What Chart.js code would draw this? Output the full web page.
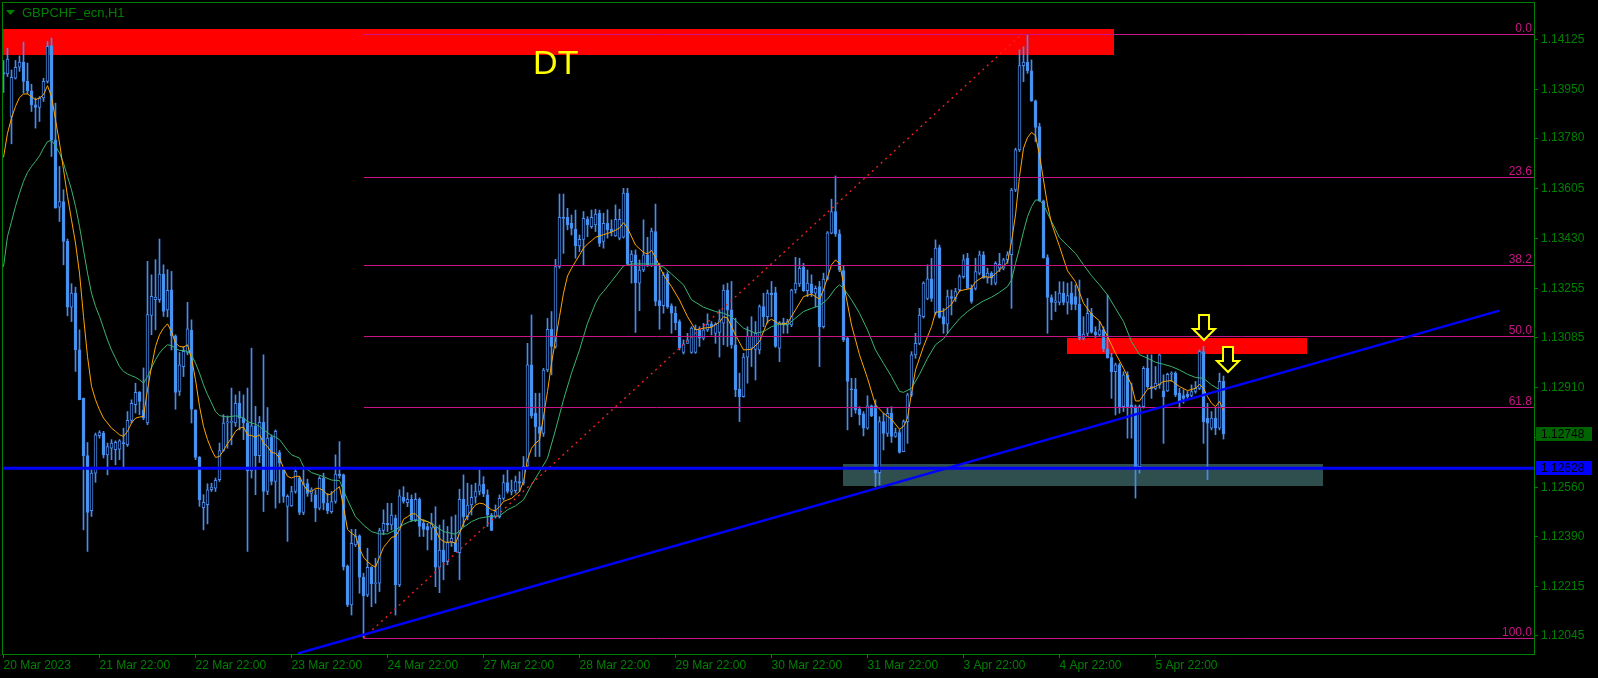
<!DOCTYPE html>
<html><head><meta charset="utf-8">
<style>html,body{margin:0;padding:0;background:#000;overflow:hidden}canvas{display:block}</style>
<script src="https://cdn.jsdelivr.net/npm/chart.js@4.4.1/dist/chart.umd.min.js"></script>
</head><body>
<canvas id="c" width="1598" height="678"></canvas>
<script>
// ---- data: GBPCHF_ecn H1, one bar per hour starting 20 Mar 2023 22:00 ----
const dayTickBars = [0,24,48,72,96,120,144,168,192,216,240,264,288];
const dayLabels = ['20 Mar 2023','21 Mar 22:00','22 Mar 22:00','23 Mar 22:00','24 Mar 22:00','27 Mar 22:00','28 Mar 22:00','29 Mar 22:00','30 Mar 22:00','31 Mar 22:00','3 Apr 22:00','4 Apr 22:00','5 Apr 22:00'];
const priceTicks = [1.14125,1.13950,1.13780,1.13605,1.13430,1.13255,1.13085,1.12910,1.12735,1.12560,1.12390,1.12215,1.12045];

const opens = [
1.14009,1.14004,1.13856,1.13989,1.14028,1.14045,1.13978,1.13945,1.13896,1.13887,
1.13920,1.13978,1.14103,1.13774,1.13539,1.13559,1.13420,1.13190,1.13239,1.13041,
1.12873,1.12672,1.12480,1.12611,1.12742,1.12751,1.12675,1.12698,1.12693,1.12695,
1.12718,1.12710,1.12795,1.12850,1.12893,1.12832,1.12786,1.13161,1.13216,1.13216,
1.13306,1.13181,1.13251,1.13090,1.12896,1.12983,1.13032,1.13109,1.12832,1.12666,
1.12491,1.12501,1.12553,1.12559,1.12588,1.12690,1.12786,1.12788,1.12786,1.12855,
1.12803,1.12786,1.12619,1.12776,1.12672,1.12788,1.12547,1.12737,1.12582,1.12683,
1.12625,1.12495,1.12497,1.12547,1.12594,1.12474,1.12575,1.12540,1.12535,1.12489,
1.12593,1.12506,1.12477,1.12512,1.12608,1.12605,1.12287,1.12151,1.12361,1.12392,
1.12248,1.12186,1.12282,1.12225,1.12227,1.12411,1.12436,1.12430,1.12454,1.12221,
1.12527,1.12508,1.12520,1.12448,1.12520,1.12436,1.12425,1.12419,1.12425,1.12283,
1.12343,1.12302,1.12369,1.12369,1.12334,1.12520,1.12459,1.12500,1.12527,1.12547,
1.12573,1.12535,1.12465,1.12459,1.12459,1.12523,1.12578,1.12547,1.12550,1.12582,
1.12576,1.12636,1.12989,1.12820,1.12773,1.12750,1.12971,1.13113,1.13053,1.13332,
1.13504,1.13504,1.13483,1.13462,1.13404,1.13427,1.13497,1.13471,1.13477,1.13518,
1.13420,1.13483,1.13463,1.13439,1.13431,1.13434,1.13588,1.13349,1.13373,1.13274,
1.13320,1.13373,1.13334,1.13454,1.13213,1.13195,1.13306,1.13195,1.13169,1.13140,
1.13032,1.13064,1.13032,1.13032,1.13113,1.13082,1.13111,1.13131,1.13099,1.13102,
1.13134,1.13250,1.13181,1.13059,1.12904,1.12878,1.13016,1.13047,1.13043,1.13041,
1.13192,1.13157,1.13239,1.13241,1.13047,1.13136,1.13128,1.13128,1.13250,1.13271,
1.13330,1.13248,1.13271,1.13239,1.13262,1.13122,1.13288,1.13448,1.13524,1.13446,
1.13318,1.13082,1.12904,1.12904,1.12834,1.12818,1.12768,1.12846,1.12846,1.12613,
1.12791,1.12750,1.12820,1.12739,1.12753,1.12686,1.12791,1.12884,1.13024,1.13064,
1.13157,1.13221,1.13289,1.13172,1.13398,1.13157,1.13131,1.13227,1.13221,1.13250,
1.13297,1.13361,1.13256,1.13256,1.13309,1.13373,1.13291,1.13309,1.13274,1.13326,
1.13326,1.13355,1.13373,1.13599,1.13739,1.14033,1.14045,1.14015,1.13910,1.13820,
1.13561,1.13363,1.13224,1.13207,1.13207,1.13239,1.13207,1.13239,1.13227,1.13200,
1.13082,1.13099,1.13169,1.13103,1.13093,1.13111,1.13045,1.13014,1.12965,1.12989,
1.12843,1.12954,1.12849,1.12843,1.12634,1.12843,1.12977,1.12913,1.12907,1.12919,
1.12898,1.12898,1.12956,1.12960,1.12890,1.12882,1.12886,1.12882,1.12896,1.12907,
1.13035,1.12803,1.12768,1.12803,1.12768,1.12931];
const highs = [
1.14051,1.14094,1.14018,1.14051,1.14067,1.14115,1.14042,1.13968,1.13920,1.13925,
1.13989,1.14117,1.14129,1.13902,1.13681,1.13600,1.13428,1.13272,1.13260,1.13111,
1.12873,1.12718,1.12629,1.12751,1.12759,1.12757,1.12716,1.12728,1.12724,1.12728,
1.12768,1.12826,1.12867,1.12925,1.12896,1.12978,1.13350,1.13303,1.13356,1.13428,
1.13338,1.13321,1.13315,1.13094,1.13032,1.13053,1.13207,1.13146,1.12832,1.12669,
1.12536,1.12574,1.12576,1.12594,1.12716,1.12815,1.12811,1.12908,1.12884,1.12896,
1.12884,1.12908,1.13047,1.12844,1.12809,1.13024,1.12840,1.12745,1.12762,1.12690,
1.12631,1.12536,1.12565,1.12632,1.12600,1.12628,1.12590,1.12560,1.12553,1.12599,
1.12611,1.12540,1.12547,1.12675,1.12721,1.12608,1.12291,1.12415,1.12415,1.12396,
1.12262,1.12349,1.12285,1.12314,1.12419,1.12483,1.12506,1.12506,1.12465,1.12553,
1.12564,1.12543,1.12535,1.12541,1.12525,1.12448,1.12436,1.12471,1.12494,1.12430,
1.12448,1.12425,1.12459,1.12465,1.12555,1.12605,1.12576,1.12570,1.12576,1.12622,
1.12599,1.12553,1.12471,1.12500,1.12535,1.12605,1.12622,1.12587,1.12601,1.12616,
1.12669,1.13064,1.13163,1.12890,1.12890,1.12977,1.13151,1.13175,1.13357,1.13585,
1.13585,1.13535,1.13512,1.13529,1.13442,1.13524,1.13506,1.13529,1.13532,1.13529,
1.13518,1.13530,1.13495,1.13547,1.13532,1.13605,1.13605,1.13388,1.13390,1.13355,
1.13495,1.13434,1.13466,1.13550,1.13343,1.13311,1.13314,1.13202,1.13192,1.13146,
1.13076,1.13099,1.13122,1.13128,1.13122,1.13134,1.13167,1.13140,1.13136,1.13181,
1.13268,1.13274,1.13280,1.13152,1.12960,1.13029,1.13122,1.13157,1.13140,1.13198,
1.13239,1.13250,1.13280,1.13260,1.13140,1.13152,1.13148,1.13253,1.13364,1.13361,
1.13343,1.13320,1.13303,1.13264,1.13280,1.13309,1.13454,1.13567,1.13648,1.13460,
1.13334,1.13088,1.12942,1.12942,1.12843,1.12826,1.12881,1.12849,1.12867,1.12808,
1.12820,1.12838,1.12843,1.12768,1.12762,1.12797,1.12890,1.13035,1.13099,1.13186,
1.13279,1.13338,1.13361,1.13425,1.13407,1.13186,1.13250,1.13250,1.13256,1.13303,
1.13373,1.13378,1.13268,1.13361,1.13386,1.13384,1.13326,1.13314,1.13349,1.13378,
1.13361,1.13384,1.13605,1.13745,1.14088,1.14099,1.14142,1.14053,1.13913,1.13832,
1.13564,1.13373,1.13233,1.13245,1.13279,1.13279,1.13274,1.13279,1.13268,1.13285,
1.13157,1.13221,1.13186,1.13122,1.13140,1.13122,1.13233,1.13029,1.12995,1.12995,
1.12965,1.12965,1.12925,1.12849,1.12849,1.12983,1.13024,1.13024,1.12983,1.13026,
1.12954,1.12960,1.12965,1.12965,1.12907,1.12902,1.12896,1.12919,1.12931,1.13041,
1.13053,1.12855,1.12826,1.12838,1.12960,1.12950];
const lows = [
1.13939,1.13995,1.13760,1.13986,1.14013,1.13937,1.13935,1.13873,1.13815,1.13838,
1.13908,1.13972,1.13716,1.13536,1.13489,1.13338,1.13160,1.13140,1.12966,1.12867,
1.12413,1.12338,1.12460,1.12579,1.12733,1.12664,1.12605,1.12658,1.12640,1.12658,
1.12629,1.12704,1.12786,1.12821,1.12815,1.12797,1.12780,1.13094,1.13111,1.13207,
1.13158,1.13156,1.13041,1.12834,1.12882,1.12948,1.13024,1.12786,1.12658,1.12495,
1.12413,1.12434,1.12547,1.12547,1.12582,1.12687,1.12698,1.12710,1.12774,1.12762,
1.12728,1.12338,1.12594,1.12536,1.12648,1.12477,1.12536,1.12570,1.12489,1.12507,
1.12509,1.12373,1.12495,1.12541,1.12466,1.12466,1.12530,1.12512,1.12442,1.12483,
1.12483,1.12470,1.12471,1.12506,1.12593,1.12273,1.12145,1.12116,1.12355,1.12192,
1.12036,1.12180,1.12145,1.12157,1.12198,1.12396,1.12407,1.12413,1.12116,1.12215,
1.12506,1.12494,1.12442,1.12442,1.12390,1.12390,1.12343,1.12378,1.12215,1.12194,
1.12239,1.12291,1.12355,1.12337,1.12239,1.12425,1.12448,1.12465,1.12506,1.12535,
1.12529,1.12425,1.12410,1.12454,1.12454,1.12517,1.12541,1.12535,1.12541,1.12547,
1.12570,1.12634,1.12803,1.12669,1.12669,1.12739,1.12965,1.12954,1.13047,1.13326,
1.13378,1.13460,1.13442,1.13361,1.13384,1.13338,1.13436,1.13465,1.13454,1.13402,
1.13396,1.13431,1.13439,1.13437,1.13425,1.13431,1.13338,1.13274,1.13102,1.13178,
1.13314,1.13332,1.13332,1.13195,1.13113,1.13169,1.13186,1.13099,1.13111,1.13041,
1.13027,1.13064,1.13029,1.13029,1.13053,1.13076,1.13105,1.13093,1.13064,1.13016,
1.13059,1.13053,1.13047,1.12878,1.12791,1.12876,1.12925,1.12983,1.12936,1.13027,
1.13122,1.13134,1.13157,1.13050,1.13000,1.13099,1.13099,1.13122,1.13239,1.13262,
1.13245,1.13227,1.13227,1.13192,1.12983,1.13117,1.13285,1.13446,1.13437,1.13314,
1.13070,1.12762,1.12808,1.12820,1.12779,1.12741,1.12764,1.12808,1.12564,1.12570,
1.12692,1.12739,1.12718,1.12736,1.12681,1.12686,1.12715,1.12878,1.13012,1.13059,
1.13152,1.13216,1.13210,1.13163,1.13152,1.13099,1.13099,1.13163,1.13210,1.13245,
1.13291,1.13256,1.13204,1.13250,1.13303,1.13291,1.13274,1.13268,1.13268,1.13314,
1.13320,1.13343,1.13186,1.13593,1.13733,1.13977,1.14006,1.13908,1.13768,1.13559,
1.13361,1.13099,1.13146,1.13175,1.13198,1.13198,1.13166,1.13181,1.13181,1.13076,
1.13076,1.13088,1.13099,1.13084,1.13088,1.13035,1.13012,1.12872,1.12814,1.12820,
1.12826,1.12733,1.12733,1.12524,1.12611,1.12838,1.12907,1.12872,1.12902,1.12907,
1.12715,1.12896,1.12931,1.12878,1.12838,1.12855,1.12867,1.12878,1.12890,1.12902,
1.12715,1.12588,1.12762,1.12745,1.12762,1.12730];
const closes = [
1.14003,1.14056,1.13992,1.14027,1.14045,1.13978,1.13945,1.13896,1.13887,1.13920,
1.13978,1.14100,1.13774,1.13536,1.13559,1.13420,1.13190,1.13239,1.13041,1.12867,
1.12672,1.12474,1.12611,1.12745,1.12753,1.12675,1.12704,1.12716,1.12719,1.12724,
1.12714,1.12795,1.12855,1.12893,1.12861,1.12803,1.13164,1.13228,1.13225,1.13306,
1.13175,1.13249,1.13090,1.12893,1.12989,1.13036,1.13115,1.12834,1.12666,1.12518,
1.12509,1.12553,1.12562,1.12586,1.12690,1.12786,1.12790,1.12791,1.12855,1.12803,
1.12786,1.12619,1.12776,1.12672,1.12788,1.12547,1.12733,1.12582,1.12757,1.12646,
1.12530,1.12530,1.12547,1.12617,1.12474,1.12575,1.12540,1.12553,1.12489,1.12593,
1.12506,1.12480,1.12512,1.12608,1.12601,1.12285,1.12151,1.12366,1.12392,1.12248,
1.12183,1.12282,1.12225,1.12227,1.12411,1.12436,1.12430,1.12465,1.12221,1.12532,
1.12512,1.12520,1.12448,1.12520,1.12425,1.12415,1.12413,1.12436,1.12283,1.12343,
1.12302,1.12369,1.12384,1.12337,1.12520,1.12459,1.12500,1.12527,1.12547,1.12570,
1.12539,1.12465,1.12411,1.12477,1.12523,1.12578,1.12547,1.12553,1.12582,1.12576,
1.12636,1.12989,1.12811,1.12773,1.12750,1.12971,1.13113,1.13053,1.13332,1.13504,
1.13500,1.13477,1.13465,1.13404,1.13427,1.13500,1.13477,1.13504,1.13515,1.13413,
1.13483,1.13460,1.13454,1.13497,1.13497,1.13588,1.13341,1.13375,1.13276,1.13320,
1.13373,1.13334,1.13456,1.13210,1.13195,1.13303,1.13192,1.13169,1.13136,1.13049,
1.13062,1.13076,1.13117,1.13113,1.13082,1.13111,1.13131,1.13122,1.13131,1.13146,
1.13250,1.13181,1.13059,1.12902,1.12878,1.13016,1.13088,1.13088,1.13099,1.13192,
1.13157,1.13239,1.13233,1.13053,1.13136,1.13128,1.13140,1.13250,1.13274,1.13326,
1.13248,1.13274,1.13239,1.13256,1.13122,1.13288,1.13450,1.13524,1.13446,1.13320,
1.13076,1.12931,1.12902,1.12832,1.12814,1.12768,1.12846,1.12811,1.12611,1.12791,
1.12750,1.12820,1.12739,1.12753,1.12683,1.12791,1.12884,1.13024,1.13064,1.13163,
1.13274,1.13289,1.13221,1.13396,1.13154,1.13131,1.13227,1.13221,1.13245,1.13297,
1.13355,1.13256,1.13210,1.13314,1.13373,1.13291,1.13309,1.13291,1.13343,1.13340,
1.13355,1.13373,1.13599,1.13739,1.14033,1.14045,1.14015,1.13910,1.13817,1.13561,
1.13363,1.13224,1.13207,1.13212,1.13239,1.13207,1.13231,1.13200,1.13200,1.13082,
1.13096,1.13169,1.13103,1.13093,1.13111,1.13045,1.13014,1.12965,1.12989,1.12843,
1.12954,1.12843,1.12843,1.12634,1.12843,1.12977,1.12913,1.12907,1.12925,1.13024,
1.12878,1.12956,1.12960,1.12884,1.12863,1.12872,1.12878,1.12896,1.12907,1.13035,
1.12791,1.12785,1.12803,1.12768,1.12931,1.12748];

// moving averages (null = not read, line spans the gap)
const maFast = [
1.13713,1.13797,1.13850,1.13891,1.13922,1.13934,1.13934,1.13925,1.13914,1.13920,
1.13931,1.13963,1.13925,1.13844,1.13763,1.13670,1.13577,1.13495,1.13414,1.13309,
1.13158,1.13018,1.12914,1.12867,1.12832,1.12803,1.12786,1.12768,1.12757,1.12745,
1.12739,1.12757,1.12786,1.12803,1.12807,1.12809,1.12902,1.12983,1.13053,1.13094,
1.13117,1.13132,1.13105,1.13065,1.13053,1.13051,1.13059,1.13012,1.12937,1.12844,
1.12774,1.12728,1.12693,1.12666,1.12669,1.12690,1.12714,1.12733,1.12757,1.12768,
1.12772,1.12745,1.12742,1.12737,1.12745,1.12716,1.12704,1.12683,1.12681,1.12664,
1.12629,1.12600,1.12594,1.12600,1.12600,1.12570,1.12550,1.12547,1.12558,1.12558,
1.12550,1.12535,1.12539,1.12553,1.12564,1.12494,1.12415,1.12401,1.12392,1.12349,
1.12318,1.12302,1.12291,1.12283,1.12318,1.12352,1.12369,1.12387,1.12390,1.12413,
1.12450,1.12459,1.12469,1.12469,1.12454,1.12445,1.12442,1.12434,1.12413,1.12384,
1.12372,1.12369,1.12372,1.12366,1.12401,1.12436,1.12462,1.12483,1.12500,1.12506,
1.12504,1.12494,1.12483,1.12480,1.12494,1.12512,1.12518,1.12523,1.12535,1.12547,
1.12582,1.12657,1.12698,1.12715,1.12727,1.12808,1.12896,1.12994,1.13076,1.13157,
1.13239,1.13299,1.13326,1.13349,1.13372,1.13396,1.13411,1.13422,1.13434,1.13439,
1.13443,null,1.13452,null,1.13466,1.13485,1.13466,null,1.13407,null,
1.13381,1.13376,1.13388,1.13364,null,1.13303,null,1.13262,null,1.13215,
null,1.13157,null,1.13111,null,1.13117,null,1.13120,null,1.13138,
1.13157,1.13152,null,1.13093,null,1.13041,null,1.13043,null,1.13070,
null,1.13140,1.13148,null,1.13131,null,1.13134,null,1.13181,null,
1.13227,null,1.13236,null,1.13218,1.13250,null,1.13338,1.13355,1.13343,
1.13274,null,1.13128,null,1.13024,null,1.12942,null,1.12849,null,
1.12820,null,1.12799,null,1.12764,1.12774,1.12803,1.12890,1.12971,null,
1.13053,null,1.13122,1.13172,null,1.13177,null,1.13200,null,1.13247,
null,1.13253,1.13256,1.13279,null,1.13297,null,1.13294,null,1.13320,
null,1.13347,1.13419,1.13512,1.13646,1.13745,1.13782,1.13800,1.13789,1.13721,
1.13634,1.13547,1.13483,null,1.13402,null,1.13317,null,1.13279,null,
1.13204,null,1.13166,null,1.13142,null,1.13088,null,1.13029,null,
1.12977,null,1.12919,1.12863,1.12863,null,1.12904,null,1.12913,null,
1.12931,null,1.12934,null,1.12913,null,1.12899,null,1.12907,1.12921,
1.12907,1.12878,1.12855,1.12843,1.12861,1.12830];
const maSlow = [
1.13331,1.13437,1.13489,1.13542,1.13588,1.13629,1.13660,1.13681,1.13699,1.13718,
1.13745,1.13768,1.13772,1.13753,1.13728,1.13693,1.13646,1.13600,1.13542,1.13472,
1.13390,1.13309,1.13239,1.13193,1.13158,1.13117,1.13076,1.13041,1.13012,1.12983,
1.12966,1.12957,1.12951,1.12945,1.12937,1.12925,1.12948,1.12978,1.13007,1.13030,
1.13047,1.13059,1.13056,1.13047,1.13039,1.13039,1.13036,1.13024,1.12995,1.12960,
1.12919,1.12885,1.12856,1.12826,1.12812,1.12809,1.12807,1.12809,1.12811,1.12809,
1.12803,1.12791,1.12786,1.12782,1.12774,1.12762,1.12753,1.12742,1.12737,1.12728,
1.12710,1.12690,1.12675,1.12669,1.12664,1.12634,null,1.12613,null,null,
1.12599,null,1.12587,null,1.12585,null,1.12518,null,1.12459,null,
1.12430,null,1.12407,null,1.12399,null,1.12399,null,1.12413,null,
1.12432,null,1.12445,null,null,1.12448,null,1.12436,null,null,
1.12407,null,null,1.12398,null,1.12422,null,1.12442,null,1.12454,
null,1.12459,null,null,1.12462,null,1.12483,null,1.12497,null,
1.12518,null,1.12570,null,1.12616,null,1.12663,null,1.12762,null,
1.12867,null,1.12960,null,1.13041,null,1.13134,null,1.13204,1.13229,
1.13245,null,1.13280,null,null,1.13334,null,1.13341,null,null,
1.13341,null,null,1.13341,null,1.13330,null,1.13306,null,null,
1.13268,null,1.13216,null,null,1.13190,null,null,1.13175,null,
1.13169,null,1.13157,null,null,1.13117,null,null,1.13099,null,
1.13105,null,1.13122,null,1.13131,null,1.13128,null,1.13152,null,
1.13175,null,1.13186,null,1.13195,null,1.13218,null,1.13256,1.13268,
1.13256,null,1.13216,null,1.13169,null,1.13111,null,1.13041,null,
1.12994,null,1.12948,null,1.12896,1.12893,null,1.12907,null,1.12956,
null,1.13012,null,1.13059,null,1.13080,null,1.13117,null,1.13150,
null,1.13175,null,1.13195,null,1.13212,null,1.13225,null,1.13242,
null,1.13262,1.13285,1.13343,1.13396,1.13454,1.13506,1.13541,1.13564,1.13564,
1.13547,null,1.13489,null,1.13433,null,1.13405,null,1.13378,null,
1.13338,null,1.13300,null,1.13268,null,1.13233,null,1.13186,null,
1.13140,null,1.13070,null,1.13024,null,1.13012,null,1.12998,null,
1.12991,null,1.12983,null,1.12971,null,1.12956,null,1.12945,null,
1.12942,null,1.12919,null,1.12902,1.12895];

// drawn objects (anchored in bar index / price)
const fibLevels = [0.0, 23.6, 38.2, 50.0, 61.8, 100.0];
const fibAnchor = {lowBar: 90, lowPrice: 1.12036, highBar: 254.5, highPrice: 1.14142};
const boxes = [
  {x1: -0.375, x2: 277.6, top: 1.14161, bottom: 1.14070, color: '#FF0000'},
  {x1: 265.8, x2: 325.9, top: 1.13082, bottom: 1.13027, color: '#FF0000'},
  {x1: 209.9, x2: 329.9, top: 1.12643, bottom: 1.12566, color: '#2F4F4F'}
];
const supportLevel = 1.12628;
const trendLine = {x1: 73.6, p1: 1.11982, x2: 373.95, p2: 1.13178};
const arrows = [{bar: 300, price: 1.13163}, {bar: 306, price: 1.13051}];
const dtLabel = {bar: 132.4, price: 1.14004, text: 'DT'};
const bidPrice = 1.12748;

// ---- drawing ----
const GREEN = '#008000';
const FONT = '"Liberation Sans", Arial, sans-serif';
const BLUE_LINE = '#4A8CEB';
const BEAR_FILL = '#3A9BF5';

const wickData = highs.map((h,i)=>({x:i, y:[lows[i], h]}));
const bodyData = opens.map((o,i)=>({x:i, y:[o, closes[i]]}));
const bodyFill = opens.map((o,i)=> closes[i] >= o ? '#000000' : BEAR_FILL);

const overlay = {
  id: 'overlay',
  beforeDraw(chart){
    const c = chart.ctx; c.save(); c.fillStyle = '#000'; c.fillRect(0,0,chart.width,chart.height); c.restore();
  },
  beforeDatasetsDraw(chart){
    const c = chart.ctx, xs = chart.scales.x, ys = chart.scales.y, a = chart.chartArea;
    c.save(); c.beginPath(); c.rect(a.left, a.top, a.right-a.left, a.bottom-a.top); c.clip();
    for (const b of boxes){
      const x1 = Math.round(xs.getPixelForValue(b.x1)), x2 = Math.round(xs.getPixelForValue(b.x2));
      const y1 = Math.round(ys.getPixelForValue(b.top)), y2 = Math.round(ys.getPixelForValue(b.bottom));
      c.fillStyle = b.color; c.fillRect(x1, y1, x2-x1, y2-y1);
    }
    c.restore();
  },
  afterDatasetsDraw(chart){
    const c = chart.ctx, xs = chart.scales.x, ys = chart.scales.y, a = chart.chartArea;
    c.save(); c.beginPath(); c.rect(a.left, a.top, a.right-a.left, a.bottom-a.top); c.clip();
    // fibonacci levels
    const range = fibAnchor.highPrice - fibAnchor.lowPrice;
    const fx = Math.round(xs.getPixelForValue(fibAnchor.lowBar));
    c.font = '12px ' + FONT; c.textAlign = 'right'; c.textBaseline = 'alphabetic';
    for (const lv of fibLevels){
      const p = fibAnchor.highPrice - range*lv/100;
      const y = Math.round(ys.getPixelForValue(p)) + 0.5;
      c.strokeStyle = '#C71585'; c.lineWidth = 1;
      c.beginPath(); c.moveTo(fx, y); c.lineTo(a.right, y); c.stroke();
      c.fillStyle = '#C71585'; c.fillText(lv.toFixed(1), a.right - 2, y - 3);
    }
    // fib base line (dotted red)
    c.strokeStyle = '#FF2020'; c.lineWidth = 1.3; c.setLineDash([2,4]);
    c.beginPath();
    c.moveTo(xs.getPixelForValue(fibAnchor.lowBar), ys.getPixelForValue(fibAnchor.lowPrice));
    c.lineTo(xs.getPixelForValue(fibAnchor.highBar), ys.getPixelForValue(fibAnchor.highPrice));
    c.stroke(); c.setLineDash([]);
    // support line
    const sy = ys.getPixelForValue(supportLevel);
    c.strokeStyle = '#0000FF'; c.lineWidth = 3;
    c.beginPath(); c.moveTo(a.left, sy); c.lineTo(a.right, sy); c.stroke();
    // trend line
    c.lineWidth = 2.5;
    c.beginPath();
    c.moveTo(xs.getPixelForValue(trendLine.x1), ys.getPixelForValue(trendLine.p1));
    c.lineTo(xs.getPixelForValue(trendLine.x2), ys.getPixelForValue(trendLine.p2));
    c.stroke();
    // arrows
    for (const ar of arrows){
      const cx = Math.round(xs.getPixelForValue(ar.bar)), ty = Math.round(ys.getPixelForValue(ar.price));
      c.beginPath();
      c.moveTo(cx-5, ty); c.lineTo(cx+5, ty); c.lineTo(cx+5, ty+14); c.lineTo(cx+11, ty+14);
      c.lineTo(cx, ty+25); c.lineTo(cx-11, ty+14); c.lineTo(cx-5, ty+14); c.closePath();
      c.fillStyle = '#000'; c.fill();
      c.strokeStyle = '#FFFF00'; c.lineWidth = 2; c.stroke();
    }
    // DT label
    c.fillStyle = '#FFFF00'; c.font = '34px ' + FONT; c.textAlign = 'left'; c.textBaseline = 'alphabetic';
    c.fillText(dtLabel.text, xs.getPixelForValue(dtLabel.bar), ys.getPixelForValue(dtLabel.price));
    c.restore();
  },
  afterDraw(chart){
    const c = chart.ctx, ys = chart.scales.y, a = chart.chartArea;
    c.save();
    c.strokeStyle = GREEN; c.lineWidth = 1;
    c.beginPath(); c.moveTo(a.left+0.5, a.top+0.5); c.lineTo(a.right, a.top+0.5);
    c.moveTo(a.left+0.5, a.top); c.lineTo(a.left+0.5, a.bottom); c.stroke();
    // title
    c.fillStyle = GREEN;
    c.beginPath(); c.moveTo(6,10); c.lineTo(15,10); c.lineTo(10.5,15); c.closePath(); c.fill();
    c.font = '13px ' + FONT; c.textAlign = 'left'; c.textBaseline = 'middle';
    c.fillText('GBPCHF_ecn,H1', 22, 13);
    // price labels on the axis
    c.font = '12px ' + FONT;
    const tags = [{p: bidPrice, bg: '#006400'}, {p: supportLevel, bg: '#0000FF'}];
    for (const t of tags){
      const y = Math.round(ys.getPixelForValue(t.p));
      c.fillStyle = t.bg; c.fillRect(a.right+2, y-7, 56, 14);
      c.fillStyle = '#000'; c.fillText(t.p.toFixed(5), a.right+7, y+1);
    }
    c.restore();
  }
};

new Chart(document.getElementById('c'), {
  data: {
    datasets: [
      {type:'line', data: maFast.map((v,i)=>({x:i,y:v})), borderColor:'#FFA500', borderWidth:1, pointRadius:0, spanGaps:true, order:1},
      {type:'line', data: maSlow.map((v,i)=>({x:i,y:v})), borderColor:'#3CB371', borderWidth:1, pointRadius:0, spanGaps:true, order:1},
      {type:'bar', data: bodyData, backgroundColor: bodyFill, borderColor: BLUE_LINE, borderWidth:1, borderSkipped:false, barThickness:3, minBarLength:1, grouped:false, order:2},
      {type:'bar', data: wickData, backgroundColor: BLUE_LINE, borderWidth:0, barThickness:1, grouped:false, order:3}
    ]
  },
  options: {
    responsive:false, animation:false, devicePixelRatio:1,
    layout:{padding:{left:2, top:2, right:0, bottom:0}},
    plugins:{legend:{display:false}, tooltip:{enabled:false}},
    scales:{
      x:{type:'linear', position:'bottom', min:-0.375, max:382.625, offset:false,
        afterBuildTicks:(s)=>{ s.ticks = dayTickBars.map(v=>({value:v})); },
        afterFit:(s)=>{ s.height = 24; s.paddingLeft = 0; s.paddingRight = 0; },
        grid:{display:true, drawOnChartArea:false, drawTicks:true, tickLength:4, color:GREEN, offset:false},
        border:{display:true, color:GREEN},
        ticks:{autoSkip:false, maxRotation:0, minRotation:0, align:'start', padding:0, color:GREEN, font:{family:FONT, size:12},
          callback:(v)=>{ const k = dayTickBars.indexOf(v); return k >= 0 ? dayLabels[k] : ''; }}
      },
      y:{type:'linear', position:'right', min:1.11980, max:1.14255,
        afterBuildTicks:(s)=>{ s.ticks = priceTicks.map(v=>({value:v})); },
        afterFit:(s)=>{ s.width = 64; s.paddingTop = 0; s.paddingBottom = 0; },
        grid:{display:true, drawOnChartArea:false, drawTicks:true, tickLength:4, color:GREEN},
        border:{display:true, color:GREEN},
        ticks:{padding:3, color:GREEN, font:{family:FONT, size:12}, callback:(v)=>Number(v).toFixed(5)}
      }
    }
  },
  plugins:[overlay]
});
</script>
</body></html>
